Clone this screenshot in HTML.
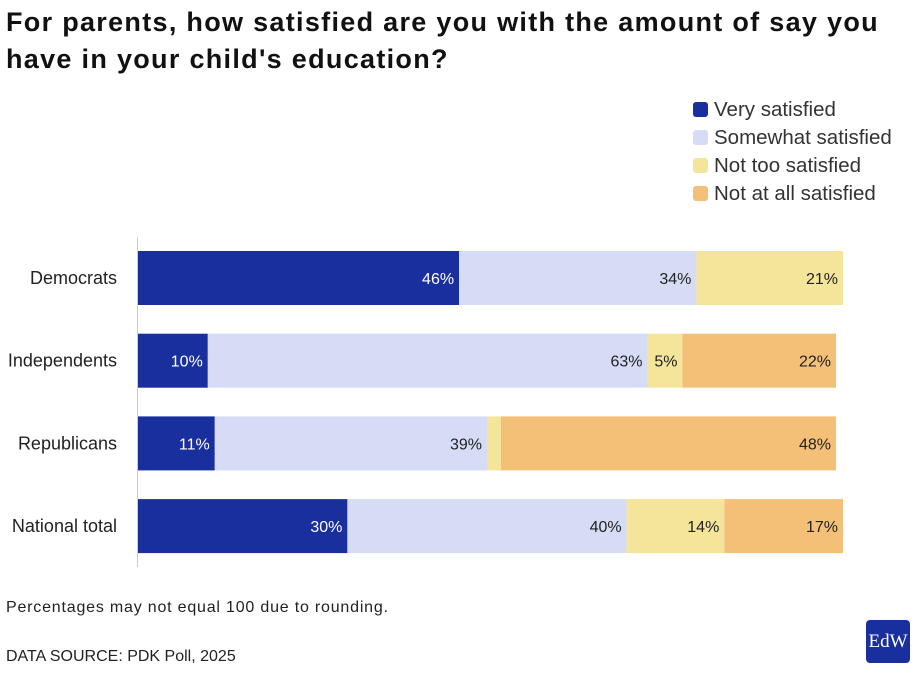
<!DOCTYPE html>
<html><head><meta charset="utf-8"><style>
body{margin:0;width:922px;height:679px;background:#fff;font-family:"Liberation Sans",sans-serif;color:#222;position:relative;overflow:hidden}
.t{position:absolute;left:6px;top:4px;font-size:27px;font-weight:bold;line-height:37px;color:#111;letter-spacing:1.3px;white-space:nowrap}
.lg{position:absolute;left:693px;font-size:20.5px;color:#333;line-height:24px;letter-spacing:0px}
.lg i{display:inline-block;width:15px;height:15px;border-radius:3px;margin-right:6px;vertical-align:-1px}
.note{position:absolute;left:6px;font-size:16px;color:#222}
.logo{position:absolute;left:866px;top:620px;width:44px;height:43px;background:#1a2f9e;border-radius:4px;color:#fff;font-family:"Liberation Serif",serif;font-size:19px;text-align:center;line-height:43px}
</style></head><body>
<div class="t">For parents, how satisfied are you with the amount of say you<br>have in your child's education?</div>
<div class="lg" style="top:98px"><i style="background:#1a2f9e"></i>Very satisfied</div>
<div class="lg" style="top:126px"><i style="background:#d6dcf5"></i>Somewhat satisfied</div>
<div class="lg" style="top:154px"><i style="background:#f5e59a"></i>Not too satisfied</div>
<div class="lg" style="top:182px"><i style="background:#f4c077"></i>Not at all satisfied</div>
<svg id="c" width="922" height="679" style="position:absolute;left:0;top:0"></svg>
<div class="note" style="top:599px;letter-spacing:0.8px">Percentages may not equal 100 due to rounding.</div>
<div class="note" style="top:648px">DATA SOURCE: PDK Poll, 2025</div>
<div class="logo">EdW</div>
<script>
const categories=["Democrats","Independents","Republicans","National total"];
const verySatisfied=[46,10,11,30];
const somewhatSatisfied=[34,63,39,40];
const notTooSatisfied=[21,5,2,14];
const notAtAllSatisfied=[0,22,48,17];
const series=[verySatisfied,somewhatSatisfied,notTooSatisfied,notAtAllSatisfied];
const colors=["#1a2f9e","#d6dcf5","#f5e59a","#f4c077"];
const textColors=["#fff","#222","#222","#222"];
const svg=document.getElementById('c');const NS="http://www.w3.org/2000/svg";
const x=v=>138+v*6.98;
const y=i=>251+i*82.7;
const bh=54;
function mk(t,a){const e=document.createElementNS(NS,t);for(const k in a)e.setAttribute(k,a[k]);svg.appendChild(e);return e;}
categories.forEach((c,i)=>{
  let acc=0;
  series.forEach((s,j)=>{
    const v=s[i];if(!v)return;
    const r=mk('rect',{x:x(acc),y:y(i),width:x(acc+v)-x(acc),height:bh,fill:colors[j]});
    
    
    acc+=v;
    if(v>=4){const t=mk('text',{x:x(acc)-5,y:y(i)+bh/2+6,'text-anchor':'end','font-size':16,fill:textColors[j],'font-family':'Liberation Sans, sans-serif'});t.textContent=v+'%';
    
    }
  });
  const l=mk('text',{x:117,y:y(i)+bh/2+6,'text-anchor':'end','font-size':18,fill:'#222','font-family':'Liberation Sans, sans-serif'});l.textContent=c;
  
  
});
const ax=mk('line',{x1:137.5,x2:137.5,y1:237,y2:567,stroke:'#ccc','stroke-width':1});


</script>
</body></html>
